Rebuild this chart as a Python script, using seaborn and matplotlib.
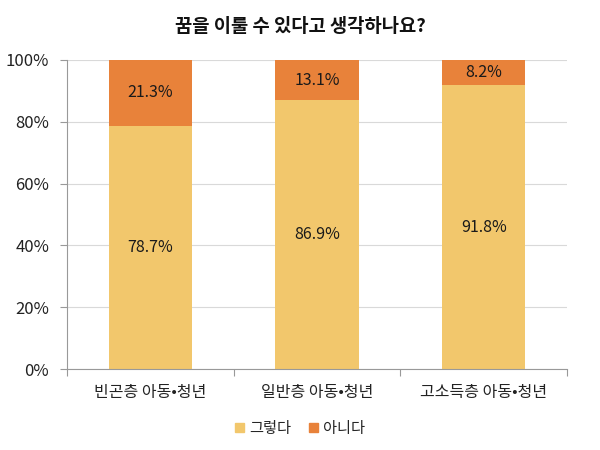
import matplotlib
matplotlib.use("Agg")
import matplotlib.pyplot as plt
import seaborn as sns
import pandas as pd
from matplotlib.patches import Patch
from matplotlib.ticker import FixedLocator

categories = ["빈곤층 아동•청년", "일반층 아동•청년", "고소득층 아동•청년"]
yes_vals = [78.7, 86.9, 91.8]
no_vals = [21.3, 13.1, 8.2]
yticks = [0, 20, 40, 60, 80, 100]
title = "꿈을 이룰 수 있다고 생각하나요?"
legend_labels = ["그렇다", "아니다"]

sns.set_theme(style="white")
plt.rcParams['font.family'] = ['Noto Sans CJK KR', 'DejaVu Sans']

c_yes = "#F2C76C"
c_no = "#E8823A"

df = pd.DataFrame({"cat": categories, "yes": yes_vals, "no": no_vals})
df["total"] = df["yes"] + df["no"]

fig = plt.figure(figsize=(6, 4.5), dpi=100)
ax = fig.add_axes([0.112, 0.18, 0.833, 0.687])

ax.yaxis.grid(True, color="#d9d9d9", linewidth=0.8)
ax.set_axisbelow(True)

sns.barplot(data=df, x="cat", y="total", color=c_no, width=0.5, ax=ax, saturation=1, linewidth=0)
sns.barplot(data=df, x="cat", y="yes", color=c_yes, width=0.5, ax=ax, saturation=1, linewidth=0)

for i, (y, n) in enumerate(zip(yes_vals, no_vals)):
    ax.text(i, y / 2, f"{y}%", ha="center", va="center", fontsize=11.5, color="#1a1a1a")
    ax.text(i, y + n / 2, f"{n}%", ha="center", va="center", fontsize=11.5, color="#1a1a1a")

ax.set_xlim(-0.5, 2.5)
ax.set_ylim(0, 100)
ax.set_yticks(yticks)
ax.set_yticklabels([f"{t}%" for t in yticks], fontsize=12, color="#222222")
ax.set_xticks(range(len(categories)))
ax.set_xticklabels(categories, fontsize=11.5, color="#222222")
ax.xaxis.set_minor_locator(FixedLocator([-0.5, 0.5, 1.5, 2.5]))
ax.tick_params(axis="x", which="major", length=0, pad=11)
ax.tick_params(axis="x", which="minor", length=5, color="#999999", width=0.8, bottom=True)
ax.tick_params(axis="y", length=5, color="#999999", width=0.8, left=True, pad=8)
ax.set_xlabel("")
ax.set_ylabel("")

for s in ["top", "right"]:
    ax.spines[s].set_visible(False)
for s in ["left", "bottom"]:
    ax.spines[s].set_color("#999999")
    ax.spines[s].set_linewidth(0.8)

fig.text(0.5, 0.94, title, ha="center", va="center", fontsize=13.5, fontweight="bold", color="#111111")

handles = [Patch(color=c_yes), Patch(color=c_no)]
fig.legend(handles, legend_labels, loc="center", bbox_to_anchor=(0.5, 0.048), ncol=2, frameon=False,
           fontsize=11, handlelength=0.6, handleheight=0.6, handletextpad=0.3, columnspacing=1.2)

fig.savefig("out.png", dpi=100)
